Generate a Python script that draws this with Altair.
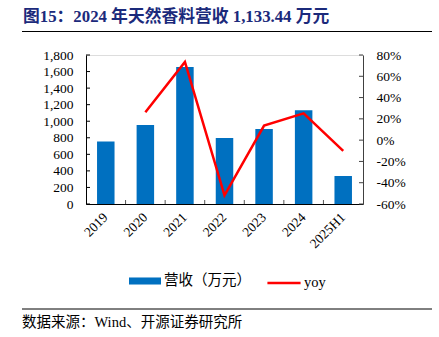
import altair as alt
import pandas as pd

categories = ["2019", "2020", "2021", "2022", "2023", "2024", "2025H1"]
revenue = [756, 954, 1655, 797, 906, 1133.44, 338]
yoy = [None, 0.262, 0.735, -0.518, 0.137, 0.251, -0.10]
left_ticks = [0, 200, 400, 600, 800, 1000, 1200, 1400, 1600, 1800]
right_ticks = [-0.6, -0.4, -0.2, 0.0, 0.2, 0.4, 0.6, 0.8]

title_text = "图15：2024 年天然香料营收 1,133.44 万元"
source_text = "数据来源：Wind、开源证券研究所"
bar_name = "营收（万元）"
line_name = "yoy"

FONT = "Liberation Serif, Noto Sans CJK SC"
BLUE = "#0070C0"
RED = "#FF0000"
W, H = 277, 149

df = pd.DataFrame({"cat": categories, "rev": revenue, "yoy": yoy,
                   "s1": [bar_name] * 7, "s2": [line_name] * 7})
df_line = df.dropna(subset=["yoy"])

xscale = alt.Scale(domain=categories, paddingInner=0, paddingOuter=0)
xaxis = alt.Axis(labelAngle=-45, labelAlign="right", labelBaseline="middle",
                 labelFont=FONT, labelFontSize=13.5, labelColor="#000",
                 labelPadding=11, ticks=False, domainColor="#000", title=None)

yl_scale = alt.Scale(domain=[0, 1800], nice=False)
yl_axis = alt.Axis(values=left_ticks, format=",.0f", labelFont=FONT,
                   labelFontSize=13.5, labelColor="#000", ticks=False,
                   labelPadding=13, domainColor="#000", grid=False, title=None)
yr_scale = alt.Scale(domain=[-0.6, 0.8], nice=False)
yr_axis = alt.Axis(orient="right", values=right_ticks,
                   labelExpr="round(datum.value * 100) + '%'",
                   labelFont=FONT, labelFontSize=13.5, labelColor="#000",
                   ticks=False, labelPadding=13, domainColor="#404040", grid=False,
                   title=None)

bars = alt.Chart(df).mark_bar(size=17.5).encode(
    x=alt.X("cat:N", scale=xscale, sort=categories, axis=xaxis),
    y=alt.Y("rev:Q", scale=yl_scale, axis=yl_axis),
    fill=alt.Fill("s1:N", scale=alt.Scale(domain=[bar_name], range=[BLUE]),
                  legend=alt.Legend(title=None, orient="none", legendX=43, legendY=210,
                                    symbolType="M-1,-0.22L1,-0.22L1,0.22L-1,0.22Z",
                                    symbolSize=1024, symbolStrokeWidth=0,
                                    labelFont=FONT, labelFontSize=14.5, labelColor="#000",
                                    labelOffset=3, padding=0)),
)

lt = pd.DataFrame({"rev": left_ticks})
lticks = alt.Chart(lt).mark_rule(color="#000", strokeWidth=1).encode(
    y=alt.Y("rev:Q", scale=yl_scale, axis=yl_axis), x=alt.value(0), x2=alt.value(4))

xt = pd.DataFrame({"cat": categories[1:]})
xticks = alt.Chart(xt).mark_rule(color="#555", strokeWidth=1).encode(
    x=alt.X("cat:N", scale=xscale, sort=categories, bandPosition=0, axis=xaxis),
    y=alt.value(H - 4), y2=alt.value(H))

line = alt.Chart(df_line).mark_line(strokeWidth=2.5).encode(
    x=alt.X("cat:N", scale=xscale, sort=categories, axis=xaxis),
    y=alt.Y("yoy:Q", scale=yr_scale, axis=yr_axis),
    stroke=alt.Stroke("s2:N", scale=alt.Scale(domain=[line_name], range=[RED]),
                      legend=alt.Legend(title=None, orient="none", legendX=180, legendY=210,
                                        symbolType="stroke", symbolSize=1100,
                                        symbolStrokeWidth=2.5,
                                        labelFont=FONT, labelFontSize=14.5, labelColor="#000",
                                        labelOffset=2, padding=0)),
)

rt = pd.DataFrame({"yoy": right_ticks})
rticks = alt.Chart(rt).mark_rule(color="#404040", strokeWidth=1).encode(
    y=alt.Y("yoy:Q", scale=yr_scale, axis=yr_axis), x=alt.value(W - 4), x2=alt.value(W))

# annotations
tdf = pd.DataFrame({"t": [title_text]})
title = alt.Chart(tdf).mark_text(align="left", baseline="middle", font=FONT, fontSize=16.8,
                                 fontWeight="bold", color="#1B2A7B").encode(
    text="t:N", x=alt.value(-63), y=alt.value(-38.5))
sdf = pd.DataFrame({"t": [source_text]})
source = alt.Chart(sdf).mark_text(align="left", baseline="middle", font=FONT, fontSize=14.5,
                                  color="#000").encode(
    text="t:N", x=alt.value(-64), y=alt.value(267.7))
rdf = pd.DataFrame({"a": [0]})
rule_top = alt.Chart(rdf).mark_rule(color="#000", strokeWidth=1).encode(
    x=alt.value(-64), x2=alt.value(346), y=alt.value(-23.5))
rule_bot = alt.Chart(rdf).mark_rule(color="#000", strokeWidth=1).encode(
    x=alt.value(-64), x2=alt.value(346), y=alt.value(254))

left = alt.layer(bars, lticks, xticks, title, source, rule_top, rule_bot)
right = alt.layer(line, rticks)

chart = alt.layer(left, right).resolve_scale(y="independent").properties(
    width=W, height=H,
    autosize=alt.AutoSizeParams(type="none"),
    padding={"left": 86, "top": 55, "right": 76, "bottom": 133},
).configure_view(stroke=None).configure(background="white")

chart.save("out.html", embed_options={"renderer": "svg", "actions": False})
